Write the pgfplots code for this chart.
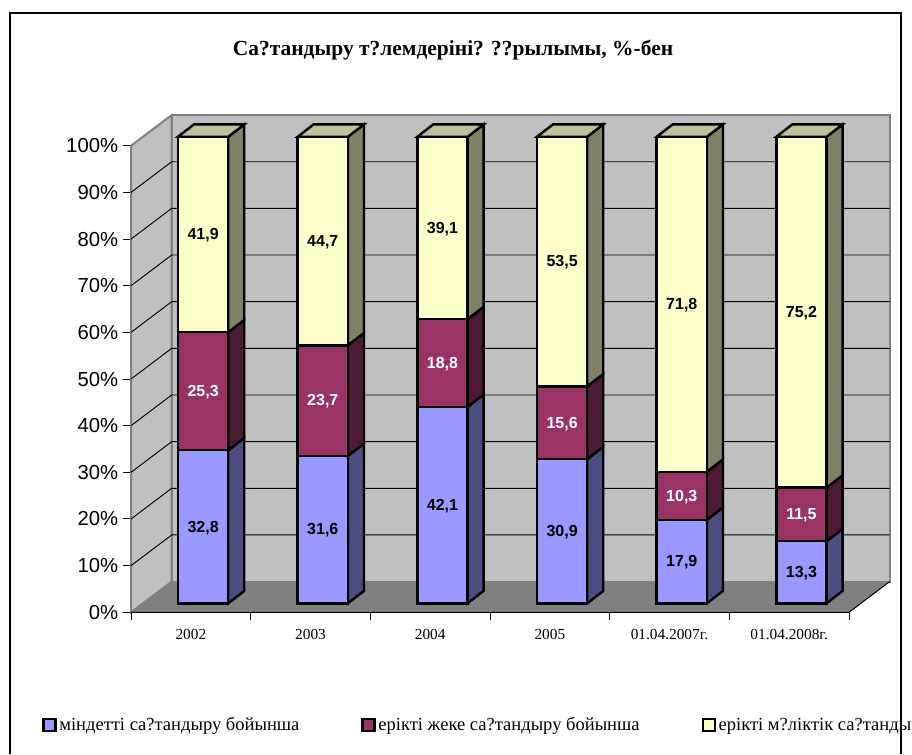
\documentclass[border=0pt]{standalone}
\usepackage{fontspec}
\setmainfont{Liberation Serif}
\newfontfamily\arial{Liberation Sans}
\usepackage{pgfplots}
\usepackage{pgfplotstable}
\pgfplotsset{compat=1.18}

\definecolor{cobl}{HTML}{9999FF}
\definecolor{cobls}{HTML}{4D4D80}
\definecolor{lich}{HTML}{993366}
\definecolor{lichs}{HTML}{4D1A33}
\definecolor{imu}{HTML}{FFFFCC}
\definecolor{imus}{HTML}{808066}
\definecolor{imut}{HTML}{C0C099}
\definecolor{wall}{HTML}{C0C0C0}
\definecolor{floorc}{HTML}{808080}

% shares per year, %
\pgfplotstableread{
x a b c
0 32.8 25.3 41.9
1 31.6 23.7 44.7
2 42.1 18.8 39.1
3 30.9 15.6 53.5
4 17.9 10.3 71.8
5 13.3 11.5 75.2
}\shares

% 3D offsets in axis units
\def\wdx{0.34}\def\wdy{6.58}
\def\bdx{0.134}\def\bdy{2.66}
\def\bw{0.42}\def\bleft{0.3927}\def\bbase{1.93}

% one stacked piece: x0, y0, y1, front colour, side colour
\newcommand{\barseg}[5]{%
  \pgfmathsetmacro\xa{#1+\bw}%
  \pgfmathsetmacro\xb{#1+\bw+\bdx}%
  \pgfmathsetmacro\yb{#2+\bdy}%
  \pgfmathsetmacro\yc{#3+\bdy}%
  \addplot[forget plot,draw=black,line width=1.8pt,fill=#5] coordinates {(\xa,#2)(\xb,\yb)(\xb,\yc)(\xa,#3)} --cycle;
  \addplot[forget plot,draw=black,line width=1.8pt,fill=#4] coordinates {(#1,#2)(\xa,#2)(\xa,#3)(#1,#3)} --cycle;
}

\begin{document}
\begin{tikzpicture}[x=0.75pt,y=0.75pt]
\path[use as bounding box] (0,0) rectangle (912,754);
\draw[black,line width=0.9pt] (10,0) -- (10,741) -- (901,741) -- (901,0);
\begin{axis}[
  at={(98.25pt,106.275pt)},anchor=south west,
  scale only axis,width=538.5pt,height=349.9pt,
  xmin=0,xmax=6,ymin=0,ymax=100,
  clip=false,
  axis x line=bottom,axis y line=left,
  axis line style={-,draw=none},
  xtick={0.5,1.5,2.5,3.5,4.5,5.5},
  xticklabels={2002,2003,2004,2005,01.04.2007г.,01.04.2008г.},
  minor xtick={0,1,2,3,4,5,6},
  ytick={0,10,...,100},
  yticklabel={\pgfmathprintnumber{\tick}\%},
  /pgf/number format/assume math mode=true,
  tick align=outside,
  major tick length=6pt,minor tick length=6pt,
  xtick style={draw=none},
  minor x tick style={draw=black,line width=0.75pt},
  ytick style={draw=black,line width=0.75pt},
  xticklabel style={font=\fontsize{11.5}{13}\selectfont,inner sep=0pt,yshift=-6.75pt},
  yticklabel style={font=\arial\fontsize{15.2}{17}\selectfont,inner sep=0pt,xshift=-3.5pt},
  title={Са?тандыру т?лемдеріні? ??рылымы, \%-бен},
  title style={at={(axis description cs:0.4485,1.1883)},anchor=center,yshift=0pt,font=\bfseries\fontsize{16.1}{18}\selectfont},
  legend columns=3,
  legend style={at={(axis description cs:-0.124,-0.2415)},anchor=west,draw=none,fill=none,inner sep=0pt,
    font=\fontsize{13.9}{15}\selectfont,
    /tikz/column 2/.style={column sep=44.5pt},/tikz/column 4/.style={column sep=44.5pt}},
  legend cell align=left,
  legend image code/.code={\draw[#1,line width=1.8pt] (0pt,-4.5pt) rectangle (9pt,4.5pt);},
]
\addlegendimage{draw=black,fill=cobl}
\addlegendimage{draw=black,fill=lich}
\addlegendimage{draw=black,fill=imu}

% walls and floor
\addplot[forget plot,draw=floorc,line width=1.5pt,fill=wall] coordinates {(0,0)(\wdx,\wdy)(\wdx,106.58)(0,100)} --cycle;
\addplot[forget plot,draw=floorc,line width=1.5pt,fill=wall] coordinates {(\wdx,\wdy)(6.34,\wdy)(6.34,106.58)(\wdx,106.58)} --cycle;
\addplot[forget plot,draw=none,fill=floorc] coordinates {(0,0)(6,0)(6.34,\wdy)(\wdx,\wdy)} --cycle;

% grid on side and back wall
\pgfplotsforeachungrouped \g in {10,20,...,90} {
  \pgfmathsetmacro\gb{\g+\wdy}
  \addplot[forget plot,black,line width=0.7pt] coordinates {(0,\g)(\wdx,\gb)(6.34,\gb)};
}
\addplot[forget plot,black,line width=0.75pt] coordinates {(0,0)(6,0)(6.34,\wdy)};

% bars
\pgfplotsforeachungrouped \i in {0,...,5} {
  \pgfmathsetmacro\xl{\i+\bleft}
  \pgfplotstablegetelem{\i}{a}\of\shares
  \pgfmathsetmacro\ya{\bbase+\pgfplotsretval}
  \pgfplotstablegetelem{\i}{b}\of\shares
  \pgfmathsetmacro\yab{\ya+\pgfplotsretval}
  \pgfplotstablegetelem{\i}{c}\of\shares
  \pgfmathsetmacro\yabc{\yab+\pgfplotsretval}
  \barseg{\xl}{\bbase}{\ya}{cobl}{cobls}
  \barseg{\xl}{\ya}{\yab}{lich}{lichs}
  \barseg{\xl}{\yab}{\yabc}{imu}{imus}
  \pgfmathsetmacro\xr{\xl+\bw}
  \pgfmathsetmacro\xc{\xl+\bdx}
  \pgfmathsetmacro\xd{\xr+\bdx}
  \pgfmathsetmacro\yt{\yabc+\bdy}
  \addplot[forget plot,draw=black,line width=1.8pt,fill=imut] coordinates {(\xl,\yabc)(\xr,\yabc)(\xd,\yt)(\xc,\yt)} --cycle;
}

% value labels
\pgfplotsset{vals/.style={forget plot,draw=none,mark=none,nodes near coords,
  /pgf/number format/.cd,fixed,precision=1,use comma,assume math mode=true,/pgfplots/.cd,
  every node near coord/.append style={anchor=center,inner sep=0pt,yshift=-0.75pt,font=\arial\bfseries\fontsize{12}{14}\selectfont,text=#1}}}
\addplot[vals=black,point meta=\thisrow{a}] table[x expr=\thisrow{x}+0.6027,y expr=1.93+\thisrow{a}/2] {\shares};
\addplot[vals=white,point meta=\thisrow{b}] table[x expr=\thisrow{x}+0.6027,y expr=1.93+\thisrow{a}+\thisrow{b}/2] {\shares};
\addplot[vals=black,point meta=\thisrow{c}] table[x expr=\thisrow{x}+0.6027,y expr=1.93+\thisrow{a}+\thisrow{b}+\thisrow{c}/2] {\shares};

\legend{міндетті са?тандыру бойынша,ерікті жеке са?тандыру бойынша,ерікті м?ліктік са?тандыру бойынша}
\end{axis}
\end{tikzpicture}
\end{document}
